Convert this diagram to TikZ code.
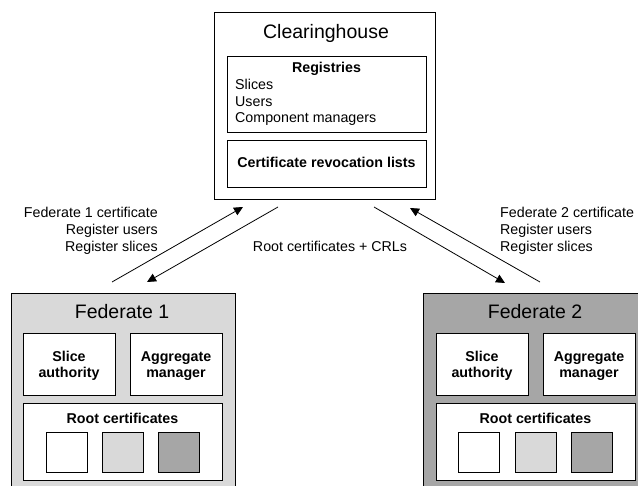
\documentclass[tikz,border=0pt]{standalone}
\usepackage{fontspec}
\setmainfont{Liberation Sans}
\usetikzlibrary{arrows.meta}
\definecolor{fedlight}{HTML}{D9D9D9}
\definecolor{feddark}{HTML}{A6A6A6}
\begin{document}
\begin{tikzpicture}[x=1pt,y=-1pt,
  box/.style={draw=black,line width=0.8pt,fill=white,rectangle,inner sep=0pt},
  txt/.style={font=\fontsize{14.25}{17}\selectfont,inner sep=0pt,anchor=base},
  btxt/.style={font=\fontsize{14.25}{17}\selectfont\bfseries,inner sep=0pt,anchor=base},
  ttl/.style={font=\fontsize{19.5}{23}\selectfont,inner sep=0pt,anchor=base},
  arr/.style={draw=black,line width=0.8pt,-{Triangle[length=9pt,width=8.5pt]}}]
\useasboundingbox (0,0) rectangle (638,486);
\clip (0,0) rectangle (638,486);
\fill[white] (0,0) rectangle (638,486);

% Clearinghouse
\node[box,minimum width=221pt,minimum height=187pt] (ch) at (324.5,105.5) {};
\node[ttl] (chT) at (326,39) {Clearinghouse};
\node[box,minimum width=199pt,minimum height=76pt] (reg) at (326.5,94) {};
\node[btxt] (regT) at (326.5,73) {Registries};
\node[txt,anchor=base west] (reg1) at (235,90) {Slices};
\node[txt,anchor=base west] (reg2) at (235,107) {Users};
\node[txt,anchor=base west] (reg3) at (235,123) {Component managers};
\node[box,minimum width=199pt,minimum height=47pt] (crl) at (326.5,163.5) {};
\node[btxt] (crlT) at (326.5,168) {Certificate revocation lists};

% Federate 1
\node[box,fill=fedlight,minimum width=224pt,minimum height=237pt] (f1) at (123,411.5) {};
\node[ttl] (f1T) at (122,319) {Federate 1};
\node[box,minimum width=92pt,minimum height=62pt] (sa1) at (69,364) {};
\node[btxt] (sa1a) at (69,362) {Slice};
\node[btxt] (sa1b) at (69,378) {authority};
\node[box,minimum width=92pt,minimum height=62pt] (am1) at (176,364) {};
\node[btxt] (am1a) at (176,362) {Aggregate};
\node[btxt] (am1b) at (176,378) {manager};
\node[box,minimum width=199pt,minimum height=77pt] (rc1) at (122.5,441.5) {};
\node[btxt] (rc1T) at (122.5,424) {Root certificates};
\node[box,minimum width=41pt,minimum height=40pt] (s11) at (66.5,452) {};
\node[box,fill=fedlight,minimum width=41pt,minimum height=40pt] (s12) at (122.5,452) {};
\node[box,fill=feddark,minimum width=41pt,minimum height=40pt] (s13) at (178.5,452) {};

% Federate 2
\node[box,fill=feddark,minimum width=224pt,minimum height=237pt] (f2) at (535,411.5) {};
\node[ttl] (f2T) at (535,319) {Federate 2};
\node[box,minimum width=92pt,minimum height=62pt] (sa2) at (482,364) {};
\node[btxt] (sa2a) at (482,362) {Slice};
\node[btxt] (sa2b) at (482,378) {authority};
\node[box,minimum width=92pt,minimum height=62pt] (am2) at (589,364) {};
\node[btxt] (am2a) at (589,362) {Aggregate};
\node[btxt] (am2b) at (589,378) {manager};
\node[box,minimum width=199pt,minimum height=77pt] (rc2) at (535.5,441.5) {};
\node[btxt] (rc2T) at (535.5,424) {Root certificates};
\node[box,minimum width=41pt,minimum height=40pt] (s21) at (479,452) {};
\node[box,fill=fedlight,minimum width=41pt,minimum height=40pt] (s22) at (535.5,452) {};
\node[box,fill=feddark,minimum width=41pt,minimum height=40pt] (s23) at (592,452) {};

% connectors
\coordinate (a1s) at (112,282);
\coordinate (a1e) at (243,207);
\coordinate (a2s) at (278,207);
\coordinate (a2e) at (147,282);
\coordinate (a3s) at (374,207);
\coordinate (a3e) at (505,283);
\coordinate (a4s) at (540,282);
\coordinate (a4e) at (410,208);
\draw[arr] (a1s) -- (a1e);
\draw[arr] (a2s) -- (a2e);
\draw[arr] (a3s) -- (a3e);
\draw[arr] (a4s) -- (a4e);

% labels
\node[txt,anchor=base east] (l1a) at (158,218) {Federate 1 certificate};
\node[txt,anchor=base east] (l1b) at (158,235) {Register users};
\node[txt,anchor=base east] (l1c) at (158,252) {Register slices};
\node[txt] (lm) at (330,252) {Root certificates + CRLs};
\node[txt,anchor=base west] (l2a) at (500,218) {Federate 2 certificate};
\node[txt,anchor=base west] (l2b) at (500,235) {Register users};
\node[txt,anchor=base west] (l2c) at (500,252) {Register slices};
\end{tikzpicture}
\end{document}
